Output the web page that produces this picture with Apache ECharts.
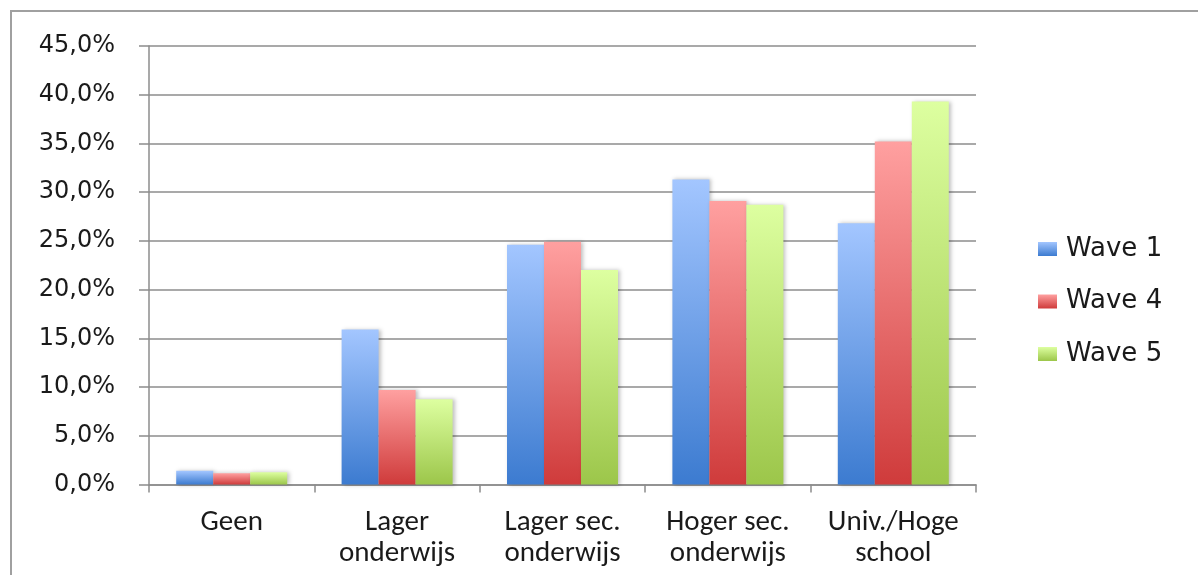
<!DOCTYPE html>
<html>
<head>
<meta charset="utf-8">
<script src="https://cdn.jsdelivr.net/npm/echarts@6/dist/echarts.min.js"></script>
<style>
html,body{margin:0;padding:0;background:#fff;}
#main{width:1198px;height:575px;}
</style>
</head>
<body>
<div id="main"></div>
<script>
var categories = ['Geen', 'Lager\nonderwijs', 'Lager sec.\nonderwijs', 'Hoger sec.\nonderwijs', 'Univ./Hoge\nschool'];
var seriesNames = ['Wave 1', 'Wave 4', 'Wave 5'];
var wave1 = [1.4, 15.9, 24.6, 31.3, 26.8];
var wave4 = [1.15, 9.7, 24.9, 29.1, 35.2];
var wave5 = [1.25, 8.75, 22.0, 28.7, 39.3];
var yTicks = [0, 5, 10, 15, 20, 25, 30, 35, 40, 45];

function grad(top, bottom) {
  return {type: 'linear', x: 0, y: 0, x2: 0, y2: 1,
    colorStops: [{offset: 0, color: top}, {offset: 1, color: bottom}]};
}
var fills = [
  grad('#a3c6ff', '#3c7bd0'),
  grad('#ffa0a0', '#cf3b3b'),
  grad('#ddffa0', '#9cc64a')
];
var data = [wave1, wave4, wave5];

var chart = echarts.init(document.getElementById('main'), null, {renderer: 'canvas'});
var series = seriesNames.map(function (n, i) {
  return {
    name: n, type: 'bar', data: data[i], barWidth: 37, barGap: '0%',
    itemStyle: {color: fills[i], shadowBlur: 4, shadowOffsetX: 2, shadowOffsetY: 0, shadowColor: 'rgba(0,0,0,0.25)'}
  };
});
chart.setOption({
  animation: false,
  backgroundColor: '#fff',
  graphic: [{type: 'rect', shape: {x: 11, y: 11, width: 1400, height: 800},
    style: {fill: 'none', stroke: '#a0a0a0', lineWidth: 2}, silent: true}],
  grid: {left: 149, right: 222, top: 46, bottom: 90.5, containLabel: false},
  legend: {
    orient: 'vertical', left: 1033, top: 231, itemWidth: 19, itemHeight: 14, itemGap: 26.5,
    icon: 'rect',
    textStyle: {fontFamily: '"DejaVu Sans"', fontSize: 26, color: '#1a1a1a', lineHeight: 26, padding: [0, 0, 0, 4]},
    data: seriesNames
  },
  xAxis: {
    type: 'category', data: categories,
    axisLine: {lineStyle: {color: '#8c8c8c', width: 1.5}},
    axisTick: {show: true, length: 8, lineStyle: {color: '#8c8c8c', width: 1.5}, alignWithLabel: false},
    axisLabel: {fontFamily: 'Carlito, "Liberation Sans Narrow", sans-serif', fontSize: 29, color: '#1a1a1a', margin: 23, lineHeight: 31, interval: 0}
  },
  yAxis: {
    type: 'value', min: yTicks[0], max: yTicks[yTicks.length - 1], interval: 5,
    axisLine: {show: true, lineStyle: {color: '#8c8c8c', width: 1.5}},
    axisTick: {show: true, length: 10, lineStyle: {color: '#8c8c8c', width: 1.5}},
    splitLine: {lineStyle: {color: '#8c8c8c', width: 1.5}},
    axisLabel: {fontFamily: '"DejaVu Sans"', fontSize: 24, color: '#1a1a1a', margin: 34,
      formatter: function (v) { return v.toFixed(1).replace('.', ',') + '%'; }}
  },
  series: series
});
</script>
</body>
</html>
